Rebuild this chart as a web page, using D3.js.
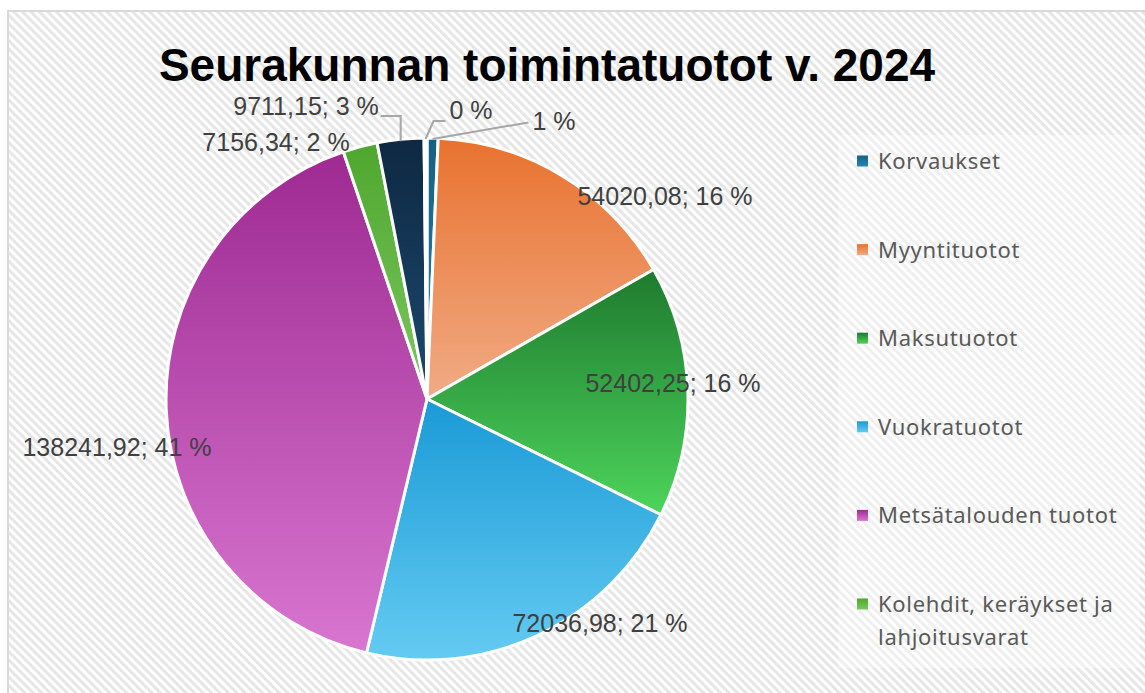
<!DOCTYPE html>
<html><head><meta charset="utf-8">
<script src="https://cdn.jsdelivr.net/npm/d3@7"></script>
<style>html,body{margin:0;padding:0;background:#fff;}svg{display:block;}</style>
</head><body>
<script>
// ---- data ----
const categories = ["Korvaukset","Myyntituotot","Maksutuotot","Vuokratuotot","Metsätalouden tuotot","Kolehdit, keräykset ja lahjoitusvarat","Muut tuotot","Muut"];
const values = [2300, 54020.08, 52402.25, 72036.98, 138241.92, 7156.34, 9711.15, 600];
const showValue = [false, true, true, true, true, true, true, false];
const legendCount = 6;
const title = "Seurakunnan toimintatuotot v. 2024";

// ---- styles / layout ----
const W = 1145, H = 693;
const cx = 427, cy = 399, R = 261;
const gradTop = ["#156082","#E8722F","#1E7A2E","#1A9AD6","#9E2A92","#4EA72E","#0E2841","#196B24"];
const gradBot = ["#2A86B4","#F1AB85","#4DD55C","#64CBF2","#D876D0","#7CC860","#1C4A70","#3FA050"];
// label anchor offsets relative to pie centre (text centre)
const labelPos = [[127,-278],[238,-203],[246,-16],[173,224],[-310,48],[-151,-257],[-121,-293],[44,-289]];

const svg = d3.select("body").append("svg").attr("width", W).attr("height", H);
const defs = svg.append("defs");
const pat = defs.append("pattern").attr("id","stripes").attr("patternUnits","userSpaceOnUse")
  .attr("width",6).attr("height",6).attr("patternTransform","rotate(-45)");
pat.append("rect").attr("width",6).attr("height",6).attr("fill","#ffffff");
pat.append("rect").attr("width",3).attr("height",6).attr("fill","#e6e6e6");

categories.forEach((c,i)=>{
  const g = defs.append("linearGradient").attr("id","g"+i).attr("x1",0).attr("y1",0).attr("x2",0).attr("y2",1);
  g.append("stop").attr("offset","0%").attr("stop-color",gradTop[i]);
  g.append("stop").attr("offset","100%").attr("stop-color",gradBot[i]);
});

svg.append("rect").attr("x",8).attr("y",11).attr("width",W).attr("height",H)
  .attr("fill","url(#stripes)").attr("stroke","#d9d9d9").attr("stroke-width",2);

// title
svg.append("text").attr("x",547).attr("y",81).attr("text-anchor","middle")
  .attr("font-family","'Liberation Sans', Arial, sans-serif").attr("font-weight","bold")
  .attr("font-size",46).attr("fill","#000").text(title);

// pie
const total = d3.sum(values);
const pie = d3.pie().sort(null).value(d=>d)(values);
const arc = d3.arc().innerRadius(0).outerRadius(R);
const gp = svg.append("g").attr("transform",`translate(${cx},${cy})`);
gp.selectAll("path").data(pie).join("path")
  .attr("d",arc).attr("fill",(d,i)=>`url(#g${i})`)
  .attr("stroke","#fff").attr("stroke-width",3).attr("stroke-linejoin","round");

// labels
const fmtVal = v => v.toFixed(2).replace(".",",");
const labelText = (d,i) => (showValue[i] ? fmtVal(values[i]) + "; " : "") + Math.round(values[i]/total*100) + " %";
const edge = (d, r) => { const a = (d.startAngle+d.endAngle)/2; return [Math.sin(a)*r, -Math.cos(a)*r]; };

const labels = gp.selectAll("text.lbl").data(pie).join("text").attr("class","lbl")
  .attr("x",(d,i)=>labelPos[i][0]).attr("y",(d,i)=>labelPos[i][1])
  .attr("text-anchor","middle").attr("dominant-baseline","central")
  .attr("font-family","'Liberation Sans', Arial, sans-serif").attr("font-size",25)
  .attr("fill","#404040").text(labelText);

// leader lines for small slices
const bbox = i => labels.nodes()[i].getBBox();
const leaders = [];
{ // Korvaukset (1 %)
  const e = edge(pie[0], R-1); const b = bbox(0);
  leaders.push([e, [b.x-4, b.y+b.height*0.55]]);
}
{ // last tiny slice (0 %)
  const e = edge(pie[7], R-1); const b = bbox(7);
  const yb = b.y + b.height - 3;
  leaders.push([e, [e[0]+8, yb], [b.x-4, yb]]);
}
{ // 3 % slice
  const e = edge(pie[6], R-2); const b = bbox(6);
  const yb = b.y + b.height - 4;
  leaders.push([e, [e[0], yb], [b.x+b.width+2, yb]]);
}
gp.selectAll("polyline").data(leaders).join("polyline")
  .attr("points",d=>d.map(p=>p.join(",")).join(" "))
  .attr("fill","none").attr("stroke","#a6a6a6").attr("stroke-width",2);

// legend
svg.append("rect").attr("x",838).attr("y",135).attr("width",302).attr("height",533)
  .attr("fill","#fff").attr("fill-opacity",0.35);
const lg = svg.append("g");
const lines = [["Korvaukset"],["Myyntituotot"],["Maksutuotot"],["Vuokratuotot"],["Metsätalouden tuotot"],["Kolehdit, keräykset ja","lahjoitusvarat"]];
const ly = d3.scalePoint().domain(d3.range(legendCount)).range([161, 604]);
d3.range(legendCount).forEach(i=>{
  lg.append("rect").attr("x",857).attr("y",ly(i)-5.5).attr("width",11).attr("height",11).attr("fill",`url(#g${i})`);
  const t = lg.append("text").attr("x",878).attr("y",ly(i)+8)
    .attr("font-family","'Noto Sans', sans-serif").attr("font-size",22).attr("letter-spacing",0.7)
    .attr("fill","#595959");
  lines[i].forEach((s,k)=>t.append("tspan").attr("x",878).attr("dy",k?33:0).text(s));
});
</script>
</body></html>
